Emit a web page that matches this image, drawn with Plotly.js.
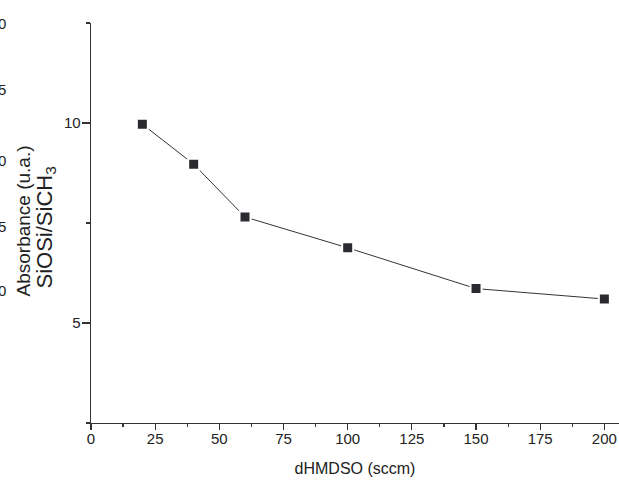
<!DOCTYPE html>
<html>
<head>
<meta charset="utf-8">
<script src="https://cdn.plot.ly/plotly-3.0.1.min.js"></script>
<style>html,body{margin:0;padding:0;background:#fff;}#chart{width:619px;height:481px;}</style>
</head>
<body>
<div id="chart"></div>
<script>
// Data
const flowSccm = [20, 40, 60, 100, 150, 200];
const ratioSiOSi = [9.97, 8.97, 7.65, 6.88, 5.86, 5.60];
const xTickVals = [0, 25, 50, 75, 100, 125, 150, 175, 200];
const yTickVals = [5, 10];
const yTitleLines = ['Absorbance (u.a.)', 'SiOSi/SiCH<sub>3</sub>'];
// clipped tick-label fragments visible at the left edge (from a neighbouring axis)
const edgeFragments = ['0', '5', '0', '5', '0'];

const W = 619, H = 481;
const M = {l: 91, r: 0, t: 23, b: 58};
const plotH = H - M.t - M.b, plotW = W - M.l - M.r;
const fragY = [23, 89, 160, 226, 290];
const px2paperX = p => (p - M.l) / plotW;
const px2paperY = p => (H - M.b - p) / plotH;

const font = 'Liberation Sans, Arial, sans-serif';
const ink = '#222';

const trace = {
  x: flowSccm, y: ratioSiOSi, type: 'scatter', mode: 'lines+markers',
  line: {color: '#333', width: 1},
  marker: {symbol: 'square', size: 11, color: '#2b2b2f', line: {color: '#fff', width: 2}},
  showlegend: false, hoverinfo: 'skip'
};

const annotations = edgeFragments.map((t, i) => ({
  xref: 'paper', yref: 'paper', x: px2paperX(7), y: px2paperY(fragY[i]),
  xanchor: 'right', yanchor: 'middle', text: t, showarrow: false,
  font: {family: font, size: 15, color: ink}, borderpad: 0
}));

const titleSpec = [{x: 22.5, y: 221, size: 19}, {x: 45.5, y: 228, size: 22}];
yTitleLines.forEach((t, i) => annotations.push({
  xref: 'paper', yref: 'paper', x: px2paperX(titleSpec[i].x), y: px2paperY(titleSpec[i].y),
  xanchor: 'center', yanchor: 'middle', text: t, textangle: -90, showarrow: false,
  font: {family: font, size: titleSpec[i].size, color: ink}, borderpad: 0
}));

const layout = {
  width: W, height: H, margin: M,
  paper_bgcolor: '#fff', plot_bgcolor: '#fff',
  font: {family: font, size: 15, color: ink},
  xaxis: {
    range: [0, 205.7], tickvals: xTickVals, ticktext: xTickVals.map(String),
    ticks: 'outside', ticklen: 6, tickwidth: 1.2, tickcolor: '#333',
    showline: true, linecolor: '#333', linewidth: 1.3, showgrid: false, zeroline: false,
    minor: {dtick: 12.5, tick0: 0, ticks: 'outside', ticklen: 3, tickwidth: 1.2, tickcolor: '#333', showgrid: false},
    tickfont: {size: 15, color: ink}, ticklabelstandoff: -4,
    title: {text: 'dHMDSO (sccm)', font: {size: 16, color: ink}, standoff: 16}
  },
  yaxis: {
    range: [2.5, 12.5], tickvals: yTickVals, ticktext: yTickVals.map(String),
    ticks: 'outside', ticklen: 8, tickwidth: 1.2, tickcolor: '#333',
    showline: true, linecolor: '#333', linewidth: 1.3, showgrid: false, zeroline: false,
    minor: {dtick: 2.5, tick0: 0, ticks: 'outside', ticklen: 4, tickwidth: 1.2, tickcolor: '#333', showgrid: false},
    tickfont: {size: 15, color: ink}, ticklabelstandoff: -2
  },
  annotations: annotations
};

Plotly.newPlot('chart', [trace], layout, {staticPlot: true, displayModeBar: false});
</script>
</body>
</html>
